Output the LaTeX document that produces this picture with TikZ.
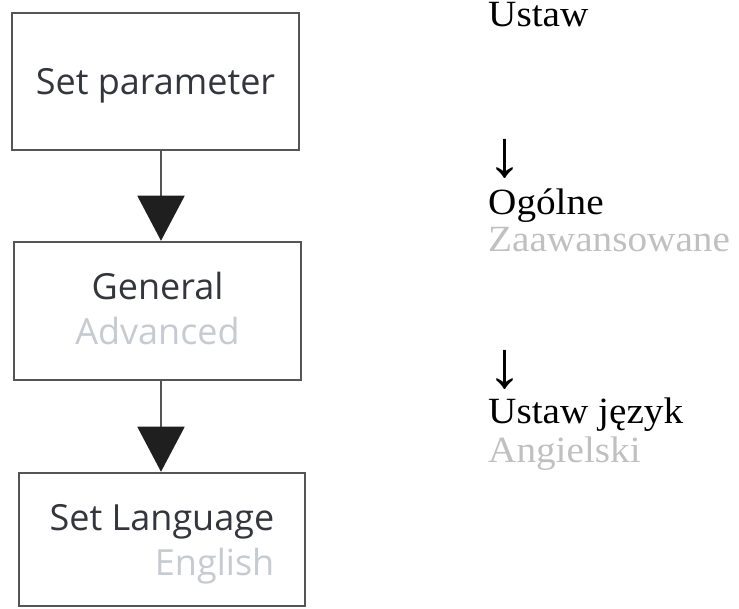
\documentclass[tikz,border=0pt]{standalone}
\usepackage{fontspec}
\setmainfont{Liberation Serif}[FakeStretch=1.06]
\newfontfamily\boxfont{Open Sans}
\usepackage{xcolor}
\usetikzlibrary{arrows.meta,positioning}
\definecolor{boxedge}{RGB}{85,85,85}
\definecolor{boxtext}{RGB}{52,54,62}
\definecolor{boxgray}{RGB}{198,203,209}
\definecolor{notegray}{RGB}{192,192,192}

\begin{document}
\begin{tikzpicture}[x=1pt, y=-1pt,
    box/.style={rectangle, draw=boxedge, line width=2.5pt, fill=white,
        minimum width=287pt, inner sep=0pt, text depth=0pt,
        font=\boxfont\fontsize{36}{45}\selectfont, text=boxtext},
    flow/.style={-{Triangle[width=47pt, length=45pt, color=black!88]},
        line width=2pt, draw=boxedge},
    note/.style={anchor=base west, inner sep=0pt,
        font=\fontsize{37}{45}\selectfont},
    down/.style={note, font=\fontsize{66}{66}\selectfont}]
\useasboundingbox (0,0) rectangle (739,609);

% flow chart
\node[box, minimum height=137pt, text height=27pt] (set) at (155.5,81.5) {Set parameter};
\node[box, minimum height=138pt, text height=68pt, align=center] (gen) at (157.5,311)
    {General\\\textcolor{boxgray}{Advanced}};
\node[box, minimum width=286pt, minimum height=133pt, text height=71pt, align=right]
    (lang) at (162,539.5) {Set Language\\\textcolor{boxgray}{English}};
\coordinate (axis) at (161,0);

\draw[flow] (set.south -| axis) -- (gen.north -| axis);
\draw[flow] (gen.south -| axis) -- (lang.north -| axis);

% translation
\node[note] (ustaw) at (488,27) {Ustaw};
\node[down] (down1) at (487,177) {↓};
\node[note] (ogolne) at (488,215) {Ogólne};
\node[note, text=notegray] (zaaw) at (488,252) {Zaawansowane};
\node[down] (down2) at (487,388) {↓};
\node[note] (jezyk) at (488,424) {Ustaw język};
\node[note, text=notegray] (ang) at (488,462) {Angielski};
\end{tikzpicture}
\end{document}
